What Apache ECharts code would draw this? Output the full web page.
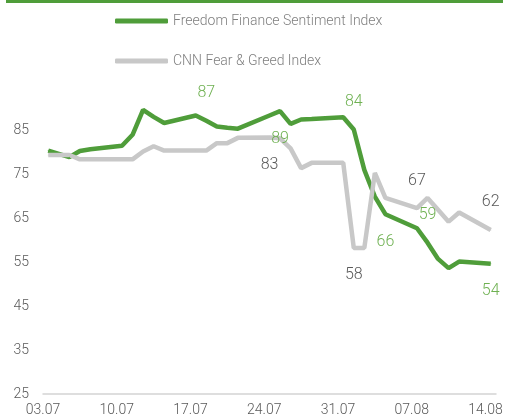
<!DOCTYPE html>
<html>
<head>
<meta charset="utf-8">
<title>Sentiment index</title>
<script src="https://cdn.jsdelivr.net/npm/echarts@6/dist/echarts.min.js"></script>
<style>
    html, body { margin: 0; padding: 0; background: #fff; }
    #chart { width: 510px; height: 420px; }
</style>
</head>
<body>
<div id="chart"></div>
<script>
// trading days that have a reading (weekends and 04.07 have none)
var tradeDays = ['03.07', '05.07', '06.07', '07.07', '10.07', '11.07', '12.07', '13.07', '14.07',
    '17.07', '18.07', '19.07', '20.07', '21.07', '24.07', '25.07', '26.07', '27.07', '28.07',
    '31.07', '01.08', '02.08', '03.08', '04.08', '07.08', '08.08', '09.08', '10.08', '11.08', '14.08'];

var ffsiValues = [80.5, 79, 80.4, 80.8, 81.6, 84.1, 89.8, 88.2, 86.8,
    88.5, 87.3, 86, 85.7, 85.5, 88.5, 89.5, 86.6, 87.6, 87.7,
    88.1, 85.3, 76.1, 70, 66, 62.8, 59.5, 55.8, 53.7, 55.2, 54.7];

var cnnValues = [79.5, 79.5, 78.5, 78.5, 78.5, 78.5, 80.3, 81.5, 80.5,
    80.5, 80.5, 82.2, 82.2, 83.4, 83.5, 83.3, 81, 76.5, 77.7,
    77.7, 58.3, 58.3, 75.4, 69.7, 67.4, 69.7, 67, 64.3, 66.4, 62.4];

var tickLabels = ['03.07', '10.07', '17.07', '24.07', '31.07', '07.08', '14.08'];

// value notes written on the chart
var ffsiNotes = { '18.07': '87', '25.07': '89', '01.08': '84', '04.08': '66', '08.08': '59', '14.08': '54' };
var cnnNotes = { '24.07': '83', '01.08': '58', '07.08': '67', '14.08': '62' };

var seriesNames = ['Freedom Finance Sentiment Index', 'CNN Fear & Greed Index'];

// notes that sit under the line
var notesBelow = {
    ffsi: ['25.07', '04.08', '14.08'],
    cnn: ['24.07', '01.08']
};

var font = 'Roboto, "Noto Sans", sans-serif';
var green = '#4f9d3a';
var greenText = '#6fb152';
var grey = '#c8c8c8';
var greyText = '#595959';

// every calendar day on the axis
function pad(n) { return n < 10 ? '0' + n : '' + n; }
var days = [];
var d = new Date(2023, 6, 3);
while (d <= new Date(2023, 7, 14)) {
    days.push(pad(d.getDate()) + '.' + pad(d.getMonth() + 1));
    d.setDate(d.getDate() + 1);
}

function buildData(values, notes, below, textColor) {
    return days.map(function (day) {
        var i = tradeDays.indexOf(day);
        if (i < 0) {
            return null;
        }
        var item = { value: values[i] };
        if (notes[day]) {
            item.label = {
                show: true,
                formatter: notes[day],
                position: below.indexOf(day) >= 0 ? 'bottom' : 'top',
                distance: 19,
                color: textColor,
                fontFamily: font,
                fontSize: 16,
                fontWeight: 300
            };
        }
        return item;
    });
}

function isTick(index, value) {
    return tickLabels.indexOf(value) >= 0;
}

var chart = echarts.init(document.getElementById('chart'));
var option = {
    animation: false,
    backgroundColor: '#fff',

    graphic: [{
        type: 'rect',
        left: 6,
        top: 0,
        shape: { width: 497, height: 3 },
        style: { fill: green }
    }],

    legend: {
        orient: 'vertical',
        left: 115,
        top: 12,
        padding: 0,
        icon: 'roundRect',
        itemWidth: 53,
        itemHeight: 5,
        itemGap: 22,
        data: seriesNames,
        textStyle: {
            color: '#7f7f7f',
            fontFamily: font,
            fontSize: 14,
            fontWeight: 300,
            lineHeight: 18
        }
    },

    grid: {
        left: 43,
        right: 14,
        top: 87,
        bottom: 26
    },

    xAxis: {
        type: 'category',
        data: days,
        boundaryGap: true,
        axisLine: { lineStyle: { color: '#d4d4d4', width: 1.5 } },
        axisTick: { interval: isTick, length: 4, lineStyle: { color: '#d4d4d4', width: 1.5 } },
        axisLabel: {
            interval: isTick,
            margin: 9,
            padding: [0, 10.5, 0, 0],
            color: greyText,
            fontFamily: font,
            fontSize: 14,
            fontWeight: 300
        },
        splitLine: { show: false }
    },

    yAxis: {
        type: 'value',
        min: 25,
        max: 95,
        interval: 10,
        axisLine: { show: false },
        axisTick: { show: false },
        splitLine: { show: false },
        axisLabel: {
            showMaxLabel: false,
            margin: 14,
            color: greyText,
            fontFamily: font,
            fontSize: 14,
            fontWeight: 300
        }
    },

    series: [{
        name: seriesNames[0],
        type: 'line',
        data: buildData(ffsiValues, ffsiNotes, notesBelow.ffsi, greenText),
        connectNulls: true,
        symbol: 'circle',
        symbolSize: 1,
        showAllSymbol: true,
        itemStyle: { color: green },
        lineStyle: { color: green, width: 4.5 },
        emphasis: { disabled: true }
    }, {
        name: seriesNames[1],
        type: 'line',
        data: buildData(cnnValues, cnnNotes, notesBelow.cnn, greyText),
        connectNulls: true,
        symbol: 'circle',
        symbolSize: 1,
        showAllSymbol: true,
        itemStyle: { color: grey },
        lineStyle: { color: grey, width: 4.5 },
        emphasis: { disabled: true }
    }]
};

chart.setOption(option);
</script>
</body>
</html>
